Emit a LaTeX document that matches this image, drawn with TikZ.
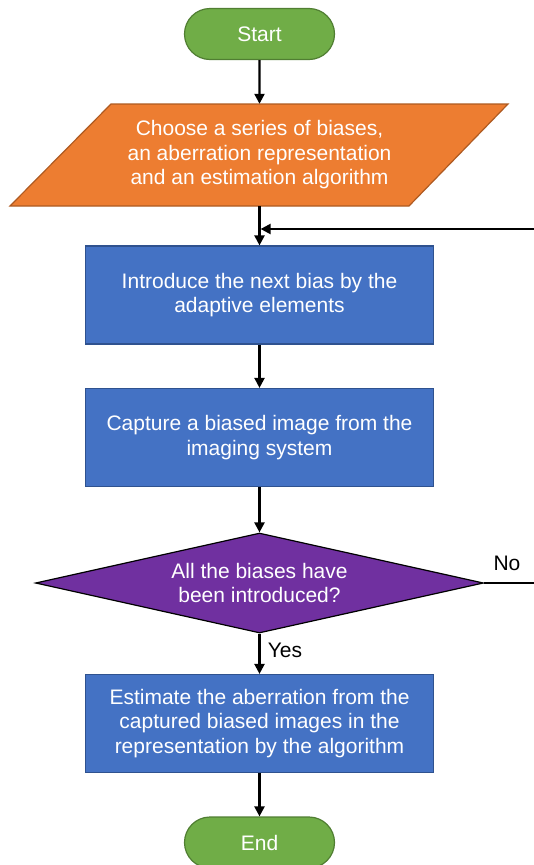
\documentclass[tikz,border=0pt]{standalone}
\usepackage{fontspec}
\setmainfont{Liberation Sans}
\usetikzlibrary{shapes.geometric,shapes.misc,arrows.meta}
\definecolor{tgreen}{HTML}{70AD47}
\definecolor{tgreenb}{HTML}{507E32}
\definecolor{torange}{HTML}{ED7D31}
\definecolor{torangeb}{HTML}{AE5A21}
\definecolor{tblue}{HTML}{4472C4}
\definecolor{tblueb}{HTML}{2F528F}
\definecolor{tpurple}{HTML}{7030A0}
\begin{document}
\begin{tikzpicture}[x=1pt,y=-1pt,
 txt/.style={text=white,font=\fontsize{21}{24.5}\selectfont,align=center},
 term/.style={txt,rounded rectangle,fill=tgreen,draw=tgreenb,line width=1.2pt,minimum width=150pt,minimum height=51pt,inner sep=0pt},
 procbox/.style={txt,rectangle,fill=tblue,draw=tblueb,line width=1.2pt,minimum width=348pt,minimum height=98pt,inner sep=0pt},
 decbox/.style={txt,diamond,aspect=4.48,fill=tpurple,draw=black,line width=1.2pt,minimum width=448pt,minimum height=100pt,inner sep=0pt},
 conn/.style={line width=2.2pt,-{Triangle[length=10pt,width=10pt]}},
 lbl/.style={font=\fontsize{21}{24.5}\selectfont,text=black}
]
\useasboundingbox (0,0) rectangle (534,865);
\node[term] (start) at (259.5,34) {Start};
\filldraw[fill=torange,draw=torangeb,line width=1.2pt] (111,104) -- (508,104) -- (409,206) -- (10,206) -- cycle;
\node[txt,minimum width=300pt,minimum height=102pt,inner sep=0pt] (choose) at (259.5,155) {Choose a series of biases,\\an aberration representation\\and an estimation algorithm};
\node[procbox] (intro) at (259.5,295) {Introduce the next bias by the\\adaptive elements};
\node[procbox] (capture) at (259.5,437.5) {Capture a biased image from the\\imaging system};
\node[decbox] (decide) at (259.5,583) {All the biases have\\been introduced?};
\node[procbox] (estimate) at (259.5,723.5) {Estimate the aberration from the\\captured biased images in the\\representation by the algorithm};
\node[term] (end) at (259.5,842.5) {End};
\coordinate (join) at (259.5,229);
\coordinate (r1) at (537,583);
\coordinate (r2) at (537,229);
\node[lbl] (no) at (507,563) {No};
\node[lbl] (yes) at (285,650) {Yes};
\draw[conn] (start) -- (choose);
\draw[conn] (choose) -- (intro);
\draw[conn,shorten >=1.1pt] (decide.east) -- (r1) -- (r2) -- (join);
\draw[conn] (intro) -- (capture);
\draw[conn] (capture) -- (decide);
\draw[conn] (decide) -- (estimate);
\draw[conn] (estimate) -- (end);
\end{tikzpicture}
\end{document}
